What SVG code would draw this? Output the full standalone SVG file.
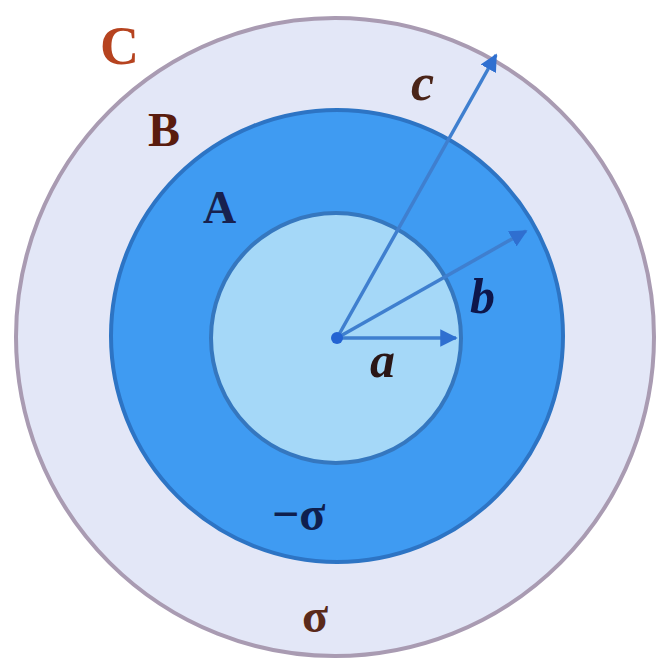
<svg xmlns="http://www.w3.org/2000/svg" width="661" height="665" viewBox="0 0 661 665">
<defs>
<style>
.lbl{font-family:"Liberation Serif","DejaVu Serif",serif;}
.up{font-weight:bold;}
.it{font-style:italic;font-weight:bold;}
.arr{stroke:#3f7fcf;stroke-width:3.5;fill:none;}
</style>
<marker id="ah" viewBox="0 0 10 10" refX="9" refY="5" markerWidth="5" markerHeight="5" orient="auto" markerUnits="strokeWidth">
<path d="M0,0 L10,5 L0,10 Z" fill="#2f6fd0"/>
</marker>
</defs>
<rect width="661" height="665" fill="#ffffff"/>
<g id="outer">
<circle cx="335" cy="337" r="319" fill="#e3e7f7" stroke="#a99bb2" stroke-width="4"/>
</g>
<g id="shellA">
<circle cx="337" cy="336" r="226" fill="#3f9bf2" stroke="#2d74c4" stroke-width="4"/>
</g>
<g id="inner">
<circle cx="336" cy="338" r="125" fill="#a5d8f8" stroke="#3577bf" stroke-width="4"/>
</g>
<g id="connectors">
<line class="arr" x1="337" y1="338" x2="456" y2="338" marker-end="url(#ah)"/>
<line class="arr" x1="337" y1="338" x2="526" y2="231" marker-end="url(#ah)"/>
<line class="arr" x1="337" y1="338" x2="496" y2="55" marker-end="url(#ah)"/>
<circle cx="337" cy="338" r="6" fill="#2463d2"/>
</g>
<g id="labels">
<text class="lbl up" x="100" y="64" font-size="54" fill="#b6431f">C</text>
<text class="lbl it" x="411" y="100" font-size="52" fill="#4a2418">c</text>
<text class="lbl up" x="148" y="146" font-size="48" fill="#5a1c0e">B</text>
<text class="lbl up" x="203" y="223" font-size="46" fill="#18214e">A</text>
<text class="lbl it" x="470" y="313" font-size="50" fill="#0e164a">b</text>
<text class="lbl it" x="370" y="377" font-size="50" fill="#2a1616">a</text>
<text class="lbl up" x="272" y="530" font-size="48" fill="#0f1f4e">−σ</text>
<text class="lbl up" x="302" y="632" font-size="48" fill="#5a2a1a">σ</text>
</g>
</svg>
